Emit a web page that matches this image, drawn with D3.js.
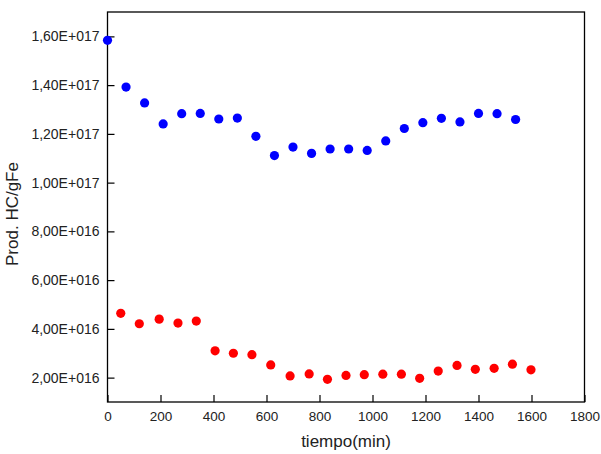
<!DOCTYPE html>
<html>
<head>
<meta charset="utf-8">
<script src="https://cdn.jsdelivr.net/npm/d3@7"></script>
<style>
  body { margin: 0; background: #fff; }
  svg text { font-family: "Liberation Sans", Arial, sans-serif; fill: #222; }
</style>
</head>
<body>
<div id="chart-area"></div>
<script>
// data
var blueTime = [0, 70, 140, 210, 280, 350, 420, 490, 560, 630, 700, 770, 840, 910, 980, 1050, 1120, 1190, 1260, 1330, 1400, 1470, 1540];
var blueProd = [1.584e17, 1.392e17, 1.327e17, 1.241e17, 1.283e17, 1.284e17, 1.261e17, 1.265e17, 1.190e17, 1.111e17, 1.146e17, 1.120e17, 1.138e17, 1.138e17, 1.132e17, 1.171e17, 1.222e17, 1.246e17, 1.264e17, 1.249e17, 1.284e17, 1.283e17, 1.259e17];
var redTime = [50, 120, 195, 266, 335, 406, 475, 545, 616, 689, 761, 830, 900, 969, 1039, 1109, 1178, 1248, 1319, 1388, 1459, 1528, 1598];
var redProd = [4.64e16, 4.21e16, 4.40e16, 4.24e16, 4.32e16, 3.10e16, 3.00e16, 2.94e16, 2.52e16, 2.07e16, 2.15e16, 1.93e16, 2.09e16, 2.12e16, 2.14e16, 2.14e16, 1.97e16, 2.27e16, 2.50e16, 2.34e16, 2.38e16, 2.55e16, 2.32e16];
var xTicks = [0, 200, 400, 600, 800, 1000, 1200, 1400, 1600, 1800];
var yTicks = [2e16, 4e16, 6e16, 8e16, 1e17, 1.2e17, 1.4e17, 1.6e17];

var width = 601, height = 454;
var plotL = 107.5, plotR = 584.5, plotT = 12, plotB = 402;

var svg = d3.select('#chart-area').append('svg')
  .attr('width', width)
  .attr('height', height);

var x = d3.scaleLinear().domain([0, 1800]).range([plotL, plotR]);
var y = d3.scaleLinear().domain([1e16, 1.7e17]).range([plotB, plotT]);

// format like 1,60E+017
function sciFmt(v) {
  var e = Math.floor(Math.log10(v) + 1e-9);
  var m = v / Math.pow(10, e);
  return m.toFixed(2).replace('.', ',') + 'E+' + String(e).padStart(3, '0');
}

// frame
svg.append('rect')
  .attr('x', plotL).attr('y', plotT)
  .attr('width', plotR - plotL).attr('height', plotB - plotT)
  .attr('fill', 'none').attr('stroke', '#000').attr('stroke-width', 1.3);

// axes, ticks point inside
var xAxis = svg.append('g')
  .attr('transform', 'translate(0,' + plotB + ')')
  .call(d3.axisBottom(x).tickValues(xTicks).tickFormat(d3.format('d')).tickSizeInner(-7).tickSizeOuter(0).tickPadding(9));
var yAxis = svg.append('g')
  .attr('transform', 'translate(' + plotL + ',0)')
  .call(d3.axisLeft(y).tickValues(yTicks).tickFormat(sciFmt).tickSizeInner(-7).tickSizeOuter(0).tickPadding(8));

[xAxis, yAxis].forEach(function(a) {
  a.select('.domain').remove();
  a.selectAll('.tick line').attr('stroke', '#000').attr('stroke-width', 1.2);
  a.selectAll('.tick text').attr('fill', '#222')
    .attr('font-family', '"Liberation Sans", Arial, sans-serif');
});
xAxis.selectAll('.tick text').attr('font-size', 13.5);
yAxis.selectAll('.tick text').attr('font-size', 14);

// points
svg.append('g').selectAll('circle.blue')
  .data(blueTime)
  .enter().append('circle')
  .attr('class', 'blue')
  .attr('cx', function(d) { return x(d); })
  .attr('cy', function(d, i) { return y(blueProd[i]); })
  .attr('r', 4.6)
  .attr('fill', '#0000ff');

svg.append('g').selectAll('circle.red')
  .data(redTime)
  .enter().append('circle')
  .attr('class', 'red')
  .attr('cx', function(d) { return x(d); })
  .attr('cy', function(d, i) { return y(redProd[i]); })
  .attr('r', 4.6)
  .attr('fill', '#ff0000');

// axis titles
svg.append('text')
  .attr('x', (plotL + plotR) / 2)
  .attr('y', 447)
  .attr('text-anchor', 'middle')
  .attr('font-size', 17)
  .text('tiempo(min)');

svg.append('text')
  .attr('transform', 'translate(18,214) rotate(-90)')
  .attr('text-anchor', 'middle')
  .attr('font-size', 17)
  .text('Prod. HC/gFe');
</script>
</body>
</html>
